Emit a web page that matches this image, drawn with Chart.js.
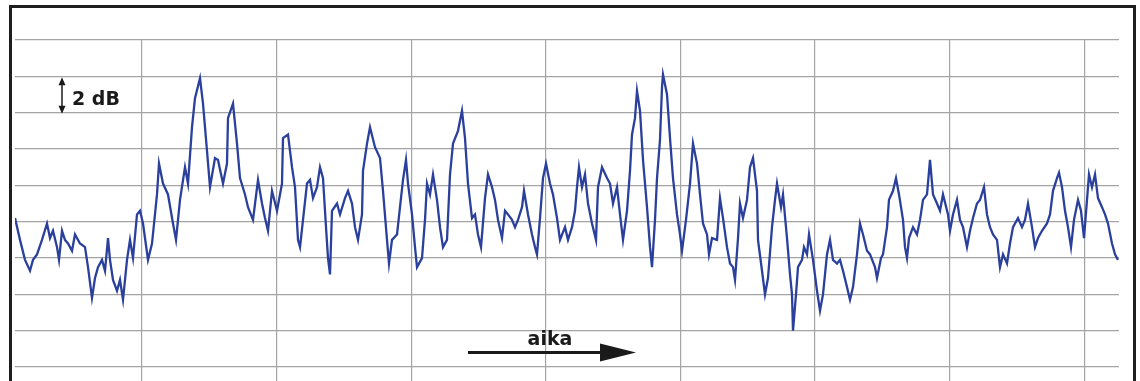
<!DOCTYPE html>
<html>
<head>
<meta charset="utf-8">
<script src="https://cdn.jsdelivr.net/npm/chart.js@4/dist/chart.umd.min.js"></script>
<style>
  html, body { margin: 0; padding: 0; background: #fff; }
  #wrap { width: 1140px; height: 381px; position: relative; }
</style>
</head>
<body>
<div id="wrap"><canvas id="myChart"></canvas></div>
<script>
/* Data section: level (dB) against time (sample units) */
var time = [
  15, 20, 25, 30, 33, 37, 42, 47, 50, 53, 57, 59, 62, 65, 68, 72, 75, 80, 85, 88,
  92, 95, 98, 102, 105, 108, 110, 113, 117, 120, 123, 127, 130, 133, 137, 140, 143, 148, 152, 157,
  159, 163, 168, 173, 176, 180, 185, 188, 192, 195, 200, 203, 207, 210, 215, 218, 223, 227, 228, 233,
  237, 240, 245, 248, 253, 258, 262, 265, 268, 272, 277, 282, 283, 288, 292, 295, 298, 300, 303, 307,
  310, 313, 317, 320, 323, 326, 328, 330, 332, 337, 340, 345, 348, 352, 355, 358, 362, 363, 367, 370,
  375, 380, 383, 387, 389, 392, 397, 400, 403, 406, 408, 412, 415, 417, 422, 425, 427, 430, 433, 437,
  440, 443, 447, 450, 453, 458, 462, 465, 468, 472, 475, 478, 481, 485, 488, 492, 495, 498, 502, 505,
  508, 512, 515, 518, 522, 524, 528, 532, 535, 537, 540, 543, 546, 550, 553, 557, 560, 565, 568, 572,
  575, 577, 579, 582, 585, 588, 592, 596, 598, 602, 607, 610, 613, 617, 620, 623, 627, 630, 632, 635,
  637, 640, 643, 647, 650, 652, 655, 657, 660, 662, 663, 667, 670, 673, 677, 680, 682, 686, 690, 693,
  697, 700, 703, 707, 709, 712, 717, 720, 723, 727, 730, 733, 735, 738, 740, 743, 747, 750, 753, 757,
  758, 762, 765, 768, 772, 775, 777, 781, 783, 787, 790, 792, 793, 796, 798, 802, 804, 807, 809, 813,
  817, 820, 823, 827, 830, 833, 837, 840, 843, 847, 850, 853, 857, 860, 863, 867, 870, 875, 877, 881,
  883, 887, 889, 893, 896, 899, 903, 905, 907, 909, 913, 917, 920, 923, 927, 930, 933, 937, 940, 943,
  948, 950, 953, 957, 960, 963, 967, 970, 973, 977, 980, 984, 987, 990, 993, 997, 1000, 1003, 1007, 1010,
  1013, 1018, 1022, 1025, 1028, 1032, 1035, 1038, 1042, 1047, 1050, 1053, 1057, 1059, 1062, 1065, 1068, 1071, 1074, 1078,
  1081, 1084, 1087, 1089, 1092, 1095, 1098, 1102, 1105, 1108, 1112, 1115, 1118
];
var level = [
  0.2, -1.0, -2.1, -2.7, -2.1, -1.8, -1.0, -0.1, -0.9, -0.5, -1.4, -2.1, -0.5, -1.0, -1.2, -1.6, -0.7, -1.2, -1.4, -2.5,
  -4.2, -3.1, -2.5, -2.1, -2.7, -0.9, -2.1, -3.2, -3.8, -3.2, -4.3, -2.1, -1.0, -2.0, 0.4, 0.6, -0.1, -2.1, -1.2, 1.5,
  3.2, 2.1, 1.5, -0.1, -1.0, 1.2, 3.0, 2.1, 5.2, 6.8, 7.9, 6.5, 3.9, 1.9, 3.5, 3.4, 2.1, 3.2, 5.7, 6.5,
  4.3, 2.4, 1.5, 0.8, 0.1, 2.3, 1.0, 0.2, -0.5, 1.7, 0.6, 2.1, 4.6, 4.8, 3.0, 1.9, -1.0, -1.4, 0.1, 2.1,
  2.3, 1.3, 1.9, 3.0, 2.4, -0.3, -2.0, -2.9, 0.6, 1.0, 0.4, 1.3, 1.7, 1.0, -0.3, -1.0, 0.4, 2.8, 4.3, 5.2,
  4.1, 3.5, 1.7, -1.0, -2.3, -1.0, -0.7, 0.8, 2.3, 3.4, 2.1, 0.4, -1.4, -2.5, -2.0, 0.1, 2.1, 1.5, 2.6, 1.2,
  -0.3, -1.4, -1.0, 2.6, 4.3, 5.0, 6.1, 4.6, 2.1, 0.2, 0.4, -0.7, -1.4, 1.3, 2.6, 1.9, 1.2, 0.1, -0.9, 0.6,
  0.4, 0.1, -0.3, 0.1, 0.8, 1.7, 0.4, -0.7, -1.4, -1.8, 0.2, 2.4, 3.2, 2.1, 1.5, 0.2, -1.0, -0.3, -1.0, -0.3,
  0.6, 1.9, 3.0, 1.9, 2.6, 1.0, -0.1, -1.0, 1.9, 3.0, 2.4, 2.1, 1.0, 1.9, 0.4, -1.0, 0.6, 2.8, 4.8, 5.7,
  7.2, 6.1, 3.4, 0.8, -1.4, -2.5, 0.1, 2.4, 4.5, 7.4, 8.1, 7.0, 4.6, 2.4, 0.4, -0.7, -1.6, 0.1, 2.1, 4.3,
  3.2, 1.5, -0.1, -0.7, -1.8, -0.9, -1.0, 1.3, 0.2, -1.4, -2.3, -2.5, -3.2, -0.9, 1.0, 0.2, 1.2, 3.0, 3.5, 1.7,
  -1.0, -2.7, -4.0, -3.1, -0.3, 1.2, 2.1, 0.8, 1.5, -0.9, -2.9, -4.0, -6.0, -4.0, -2.5, -2.1, -1.4, -1.8, -0.7, -2.1,
  -3.8, -4.9, -4.0, -1.8, -1.0, -2.1, -2.3, -2.1, -2.7, -3.6, -4.3, -3.6, -1.8, -0.1, -0.7, -1.6, -1.8, -2.5, -3.1, -2.0,
  -1.8, -0.3, 1.2, 1.7, 2.4, 1.5, 0.1, -1.4, -2.0, -0.9, -0.3, -0.7, 0.1, 1.2, 1.5, 3.4, 1.5, 1.0, 0.6, 1.5,
  0.4, -0.5, 0.4, 1.2, 0.1, -0.3, -1.4, -0.5, 0.2, 1.0, 1.2, 1.9, 0.4, -0.3, -0.7, -1.0, -2.5, -1.8, -2.3, -1.2,
  -0.3, 0.2, -0.3, 0.1, 1.0, -0.3, -1.4, -0.9, -0.5, -0.1, 0.4, 1.7, 2.4, 2.7, 1.9, 0.6, -0.3, -1.4, 0.1, 1.2,
  0.6, -0.9, 1.2, 2.6, 1.9, 2.6, 1.3, 0.8, 0.4, -0.1, -1.2, -1.8, -2.1
];
// grid positions: every 2 dB vertically, one time division horizontally
var levelTicks = [-8, -6, -4, -2, 0, 2, 4, 6, 8, 10];
var timeTicks = [142, 276.6, 411.2, 545.8, 680.4, 815, 949.6, 1084.2];

var points = time.map(function (t, i) { return { x: t, y: level[i] }; });

/* Annotation + frame plugin */
var extras = {
    id: 'extras',
    afterDraw: function (chart) {
        var c = chart.ctx;
        var xs = chart.scales.x, ys = chart.scales.y;
        c.save();
        // frame
        c.strokeStyle = '#1e1e1e';
        c.lineWidth = 3;
        c.strokeRect(10.5, 6.5, 1124, 420);

        c.fillStyle = '#1a1a1a';
        c.strokeStyle = '#1a1a1a';

        // 2 dB double arrow
        var ax = xs.getPixelForValue(62);
        var yTop = ys.getPixelForValue(8) + 1, yBot = ys.getPixelForValue(6) + 1;
        c.lineWidth = 1.5;
        c.beginPath();
        c.moveTo(ax, yTop + 5); c.lineTo(ax, yBot - 5);
        c.stroke();
        c.beginPath();
        c.moveTo(ax, yTop); c.lineTo(ax - 3.5, yTop + 8); c.lineTo(ax + 3.5, yTop + 8); c.closePath();
        c.fill();
        c.beginPath();
        c.moveTo(ax, yBot); c.lineTo(ax - 3.5, yBot - 8); c.lineTo(ax + 3.5, yBot - 8); c.closePath();
        c.fill();

        c.font = 'bold 19px "DejaVu Sans"';
        c.textBaseline = 'alphabetic';
        c.textAlign = 'left';
        c.fillText('2 dB', xs.getPixelForValue(72), ys.getPixelForValue(6.4));

        // time arrow
        var ay = ys.getPixelForValue(-7.2);
        var x0 = xs.getPixelForValue(468), x1 = xs.getPixelForValue(636);
        c.lineWidth = 3;
        c.beginPath();
        c.moveTo(x0, ay); c.lineTo(x1 - 30, ay);
        c.stroke();
        c.beginPath();
        c.moveTo(x1, ay); c.lineTo(x1 - 36, ay - 9); c.lineTo(x1 - 36, ay + 9); c.closePath();
        c.fill();
        c.textAlign = 'center';
        c.fillText('aika', xs.getPixelForValue(550), ys.getPixelForValue(-6.8));
        c.restore();
    }
};

var ctx = document.getElementById('myChart').getContext('2d');
var myChart = new Chart(ctx, {
    type: 'line',
    data: {
        datasets: [{
            data: points,
            borderColor: '#2a409c',
            borderWidth: 2.3,
            pointRadius: 0,
            tension: 0,
            fill: false
        }]
    },
    options: {
        responsive: true,
        maintainAspectRatio: false,
        animation: false,
        devicePixelRatio: 1,
        layout: { padding: { left: 15, right: 21, top: 40, bottom: 0 } },
        plugins: { legend: { display: false }, tooltip: { enabled: false } },
        scales: {
            x: {
                type: 'linear',
                min: 15,
                max: 1119,
                afterBuildTicks: function (axis) {
                    axis.ticks = timeTicks.map(function (v) { return { value: v }; });
                },
                ticks: { display: false },
                border: { display: false },
                grid: { color: '#a4a4a4', lineWidth: 1.2, drawTicks: false }
            },
            y: {
                min: 10 - 341 / 18.17,
                max: 10,
                afterBuildTicks: function (axis) {
                    axis.ticks = levelTicks.map(function (v) { return { value: v }; });
                },
                ticks: { display: false },
                border: { display: false },
                grid: { color: '#a4a4a4', lineWidth: 1.2, drawTicks: false }
            }
        }
    },
    plugins: [extras]
});
</script>
</body>
</html>
